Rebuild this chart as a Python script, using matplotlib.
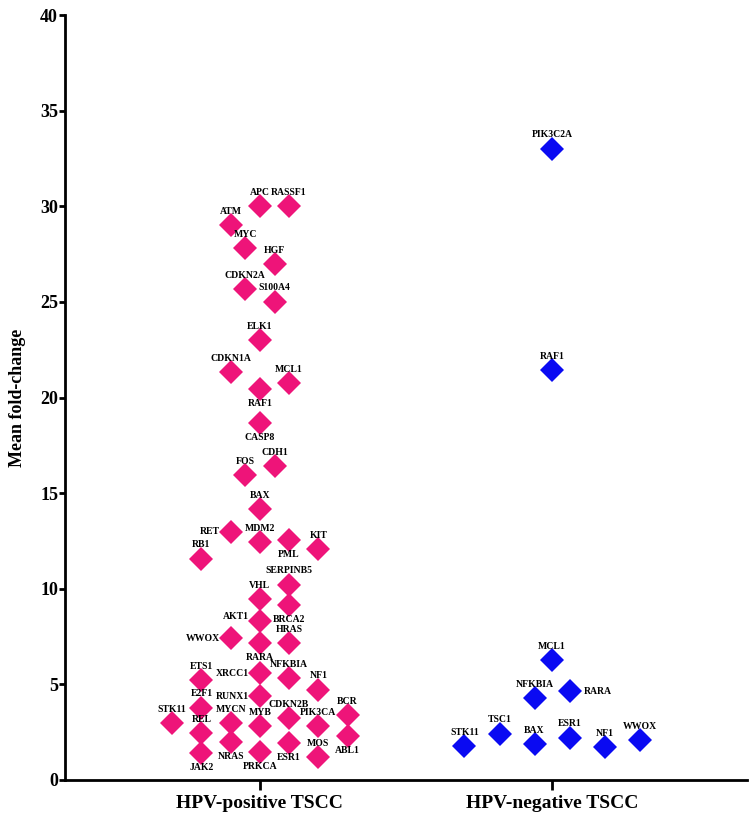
import matplotlib
matplotlib.use("Agg")
import matplotlib.pyplot as plt

# HPV-positive TSCC genes and their mean fold-change
pos_genes = ["STK11", "ETS1", "E2F1", "REL", "JAK2", "RB1",
             "WWOX", "MYCN", "NRAS", "RET", "CDKN1A", "ATM",
             "MYC", "CDKN2A", "FOS",
             "APC", "ELK1", "RAF1", "CASP8", "BAX", "MDM2", "VHL", "AKT1",
             "RARA", "XRCC1", "RUNX1", "MYB", "PRKCA",
             "HGF", "S100A4", "CDH1",
             "RASSF1", "MCL1", "PML", "SERPINB5", "BRCA2", "HRAS", "NFKBIA",
             "CDKN2B", "ESR1",
             "KIT", "NF1", "PIK3CA", "MOS",
             "BCR", "ABL1"]
pos_values = [2.98, 5.23, 3.77, 2.46, 1.41, 11.56,
              7.42, 2.98, 1.99, 12.97, 21.33, 29.0,
              27.8, 25.67, 15.95,
              30.0, 23.0, 20.44, 18.67, 14.17, 12.44, 9.46, 8.31,
              7.16, 5.59, 4.39, 2.82, 1.46,
              26.98, 25.0, 16.42,
              30.0, 20.76, 12.55, 10.2, 9.15, 7.16, 5.33,
              3.24, 1.93,
              12.08, 4.71, 2.82, 1.20,
              3.40, 2.30]

# HPV-negative TSCC genes and their mean fold-change
neg_genes = ["STK11", "TSC1", "BAX", "NFKBIA", "ESR1", "RARA",
             "NF1", "WWOX", "MCL1", "RAF1", "PIK3C2A"]
neg_values = [1.78, 2.41, 1.88, 4.29, 2.20, 4.65,
              1.72, 2.09, 6.27, 21.44, 33.0]

groups = ["HPV-positive TSCC", "HPV-negative TSCC"]

# layout: horizontal scatter of each point and where its label goes
pos_jitter = [-0.3, -0.2, -0.2, -0.2, -0.2, -0.2,
              -0.1, -0.1, -0.1, -0.1, -0.1, -0.1,
              -0.05, -0.05, -0.05,
              0, 0, 0, 0, 0, 0, 0, 0,
              0, 0, 0, 0, 0,
              0.05, 0.05, 0.05,
              0.1, 0.1, 0.1, 0.1, 0.1, 0.1, 0.1,
              0.1, 0.1,
              0.2, 0.2, 0.2, 0.2,
              0.3, 0.3]
pos_place = {"JAK2": "below", "NRAS": "below", "RAF1": "below", "CASP8": "below",
             "RARA": "below", "PRKCA": "below", "PML": "below", "BRCA2": "below",
             "ESR1": "below", "ABL1": "below",
             "WWOX": "left", "RET": "left", "AKT1": "left", "XRCC1": "left",
             "RUNX1": "left"}
neg_jitter = [-0.3, -0.18, -0.06, -0.06, 0.06, 0.06, 0.18, 0.3, 0, 0, 0]
neg_place = {"RARA": "right"}

pink = "#EE1479"
blue = "#0A0AF2"

plt.rcParams["font.family"] = ["Liberation Serif", "DejaVu Serif"]
plt.rcParams["font.weight"] = "bold"

fig = plt.figure(figsize=(7.51, 8.17), dpi=100)
ax = fig.add_axes([65 / 751, 37 / 817, 682 / 751, 765 / 817])


def label_points(xs, ys, names, place):
    for x, y, name in zip(xs, ys, names):
        where = place.get(name, "above")
        if where == "above":
            off, ha, va = (0, 6.8), "center", "bottom"
        elif where == "below":
            off, ha, va = (0, -7), "center", "top"
        elif where == "left":
            off, ha, va = (-8, 3 if name == "AKT1" else 0), "right", "center"
        else:
            off, ha, va = (10, 0), "left", "center"
        ax.annotate(name, (x, y), xytext=off, textcoords="offset points",
                    ha=ha, va=va, fontsize=7, fontweight="bold")


pos_x = [1 + j for j in pos_jitter]
neg_x = [2 + j for j in neg_jitter]
ax.plot(pos_x, pos_values, "D", color=pink, ms=12, mew=0, linestyle="none")
ax.plot(neg_x, neg_values, "D", color=blue, ms=12, mew=0, linestyle="none")
label_points(pos_x, pos_values, pos_genes, pos_place)
label_points(neg_x, neg_values, neg_genes, neg_place)

ax.set_xlim(0.333, 2.667)
ax.set_ylim(0, 40)
ax.set_yticks(range(0, 41, 5))
ax.set_xticks([1, 2])
ax.set_xticklabels(groups, fontsize=14, fontweight="bold")
ax.tick_params(axis="y", labelsize=13, width=2, length=4, pad=1)
ax.tick_params(axis="x", width=2, length=7, pad=4)
for lbl in ax.get_yticklabels():
    lbl.set_fontweight("bold")
ax.set_ylabel("Mean fold-change", fontsize=13, fontweight="bold", labelpad=10)
for side in ["top", "right"]:
    ax.spines[side].set_visible(False)
for side in ["left", "bottom"]:
    ax.spines[side].set_linewidth(2)

fig.savefig("out.png", dpi=100)
